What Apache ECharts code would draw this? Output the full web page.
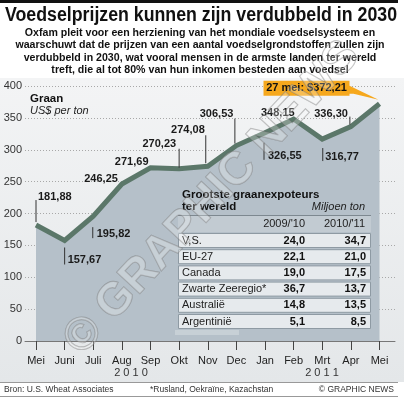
<!DOCTYPE html>
<html><head><meta charset="utf-8">
<script src="https://cdn.jsdelivr.net/npm/echarts@6/dist/echarts.min.js"></script>
<style>html,body{margin:0;padding:0;background:#fff}#c{width:404px;height:398px}</style>
</head><body><div id="c"></div>
<script>
// ---- data ----
const months = ['Mei','Juni','Juli','Aug','Sep','Okt','Nov','Dec','Jan','Feb','Mrt','Apr','Mei'];
const prices = [181.88,157.67,195.82,246.25,271.69,270.23,274.08,306.53,326.55,348.15,316.77,336.30,372.21];
const yMin = 0, yMax = 400, yStep = 50;
const years = ['2 0 1 0','2 0 1 1'];
const exporters = ['V,S.','EU-27','Canada','Zwarte Zeeregio*','Australië','Argentinië'];
const exp0910 = [24.0,22.1,19.0,36.7,14.8,5.1];
const exp1011 = [34.7,21.0,17.5,13.7,13.5,8.5];
const colHeads = ["2009/'10","2010/'11"];
const calloutText = '27 mei: $372,21';
const titleText = 'Voedselprijzen kunnen zijn verdubbeld in 2030';

// ---- styling / layout ----
const F = '"Liberation Sans", Arial, sans-serif';
// [align, dx, dy, leaderDx, leaderY1, leaderY2]
const labelLayout = [
  ['left', 2, -28, 0, -25, -3],
  ['left', 3, 19, 0, 7, 24],
  ['left', 3.5, 18, -0.5, 11, 22],
  ['right', -4, -5, null],
  ['right', -2, -6, null],
  ['right', -3, -25, 0, -20, -1],
  ['right', -3, -36, -2, -31, -3],
  ['right', -3, -32, -1.5, -27, -2],
  ['left', 3, 23, -1, 10, 27],
  ['right', 1, -6, null],
  ['left', 3, 18, 0.5, 9, 22],
  ['right', -3, -13, -1, -10, -2]
];
const fmt = v => v.toFixed(2).replace('.', ',');
const fmt1 = v => v.toFixed(1).replace('.', ',');

const titleFont = 'bold 19.5px ' + F;
const mctx = document.createElement('canvas').getContext('2d');
mctx.font = titleFont;
const titleScale = 392 / mctx.measureText(titleText).width;

const chart = echarts.init(document.getElementById('c'), null, {renderer: 'canvas'});

const g = [];
g.push({type:'rect', z:-10, shape:{x:0,y:78,width:404,height:304},
  style:{fill:new echarts.graphic.LinearGradient(0,0,0,1,[{offset:0,color:'#f3f4f5'},{offset:1,color:'#e4e7e9'}])}});
g.push({type:'rect', z:10, shape:{x:0,y:0,width:398,height:3}, style:{fill:'#111'}});
g.push({type:'text', z:10, x:201, y:15.5, scaleX:titleScale, style:{text:titleText, align:'center', verticalAlign:'middle', font:titleFont, fill:'#111'}});
const sub = ['Oxfam pleit voor een herziening van het mondiale voedselsysteem en',
 'waarschuwt dat de prijzen van een aantal voedselgrondstoffen zullen zijn',
 'verdubbeld in 2030, wat vooral mensen in de armste landen ter wereld',
 'treft, die al tot 80% van hun inkomen besteden aan voedsel'];
sub.forEach((t,i)=>g.push({type:'text', z:10, x:200, y:33+i*12.3, style:{text:t, align:'center', verticalAlign:'middle', font:'bold 10.6px '+F, fill:'#111'}}));
g.push({type:'text', z:10, x:30, y:99, style:{text:'Graan', verticalAlign:'middle', font:'bold 11.5px '+F, fill:'#111'}});
g.push({type:'text', z:10, x:30, y:111, style:{text:'US$ per ton', verticalAlign:'middle', font:'italic 11px '+F, fill:'#222'}});
g.push({type:'text', z:10, x:131, y:373, style:{text:years[0], align:'center', verticalAlign:'middle', font:'11px '+F, fill:'#333'}});
g.push({type:'text', z:10, x:322, y:373, style:{text:years[1], align:'center', verticalAlign:'middle', font:'11px '+F, fill:'#333'}});
g.push({type:'rect', z:10, shape:{x:0,y:382,width:398,height:1}, style:{fill:'#999'}});
g.push({type:'rect', z:10, shape:{x:0,y:396,width:398,height:1}, style:{fill:'#999'}});
g.push({type:'text', z:10, x:4, y:389.5, style:{text:'Bron: U.S. Wheat Associates', verticalAlign:'middle', font:'8.5px '+F, fill:'#333'}});
g.push({type:'text', z:10, x:150, y:389.5, style:{text:'*Rusland, Oekraïne, Kazachstan', verticalAlign:'middle', font:'8.5px '+F, fill:'#333'}});
g.push({type:'text', z:10, x:394, y:389.5, style:{text:'© GRAPHIC NEWS', align:'right', verticalAlign:'middle', font:'8.5px '+F, fill:'#333'}});
// table
g.push({type:'rect', z:8, shape:{x:175,y:330,width:64,height:5}, style:{fill:'rgba(255,255,255,0.25)'}});
g.push({type:'text', z:10, x:182, y:195, style:{text:'Grootste graanexpoteurs', verticalAlign:'middle', font:'bold 11.5px '+F, fill:'#111'}});
g.push({type:'text', z:10, x:182, y:207, style:{text:'ter wereld', verticalAlign:'middle', font:'bold 11.5px '+F, fill:'#111'}});
g.push({type:'text', z:10, x:365, y:207, style:{text:'Miljoen ton', align:'right', verticalAlign:'middle', font:'italic 11px '+F, fill:'#222'}});
g.push({type:'rect', z:9, shape:{x:178,y:215,width:193,height:17}, style:{fill:'rgba(255,255,255,0.18)'}});
g.push({type:'rect', z:10, shape:{x:178,y:215,width:193,height:1}, style:{fill:'#7d8890'}});
g.push({type:'text', z:10, x:305, y:224, style:{text:colHeads[0], align:'right', verticalAlign:'middle', font:'11px '+F, fill:'#222'}});
g.push({type:'text', z:10, x:365, y:224, style:{text:colHeads[1], align:'right', verticalAlign:'middle', font:'11px '+F, fill:'#222'}});
exporters.forEach((name,i)=>{
  const yc = 240.5 + i*16.2;
  g.push({type:'rect', z:10, shape:{x:178.5,y:yc-7,width:192,height:14}, style:{fill:'#e6eaed', stroke:'#8e9aa3', lineWidth:1}});
  g.push({type:'text', z:11, x:182, y:yc, style:{text:name, verticalAlign:'middle', font:'11px '+F, fill:'#222'}});
  g.push({type:'text', z:11, x:305, y:yc, style:{text:fmt1(exp0910[i]), align:'right', verticalAlign:'middle', font:'bold 11px '+F, fill:'#111'}});
  g.push({type:'text', z:11, x:366, y:yc, style:{text:fmt1(exp1011[i]), align:'right', verticalAlign:'middle', font:'bold 11px '+F, fill:'#111'}});
});
// watermark
g.push({type:'text', z:50, x:212, y:198, rotation:47*Math.PI/180, style:{text:'© GRAPHIC NEWS', align:'center', verticalAlign:'middle', font:'bold 46px '+F, fill:'rgba(255,255,255,0.25)', stroke:'rgba(110,110,110,0.45)', lineWidth:1.2}});

const option = {
  animation: false,
  backgroundColor: '#fff',
  grid: [
    {left:25, right:9, top:86, bottom:57},
    {left:36, right:24.5, top:86, bottom:57}
  ],
  xAxis: [
    {gridIndex:0, type:'value', min:0, max:1, axisLine:{show:true, lineStyle:{color:'#777', width:1}}, axisTick:{show:false}, axisLabel:{show:false}, splitLine:{show:false}},
    {gridIndex:1, type:'category', data:months, boundaryGap:false,
      axisLine:{show:false}, axisTick:{show:true, length:9, alignWithLabel:true, lineStyle:{color:'#444'}},
      axisLabel:{margin:14, fontSize:11, fontFamily:F, color:'#222', interval:0}, splitLine:{show:false}}
  ],
  yAxis: [
    {gridIndex:0, type:'value', min:yMin, max:yMax, interval:yStep, axisLine:{show:false}, axisTick:{show:false},
      axisLabel:{margin:3, fontSize:11, fontFamily:F, color:'#333'},
      splitLine:{show:true, lineStyle:{color:'#a8a8a8', type:[1,2], width:1}}},
    {gridIndex:1, type:'value', min:yMin, max:yMax, interval:yStep, show:false}
  ],
  series: [
    {type:'line', xAxisIndex:1, yAxisIndex:1, data:prices, symbol:'none', z:3,
      lineStyle:{color:'#5b7769', width:5, join:'miter'},
      areaStyle:{color:'#b5c0c9', opacity:1}},
    {type:'custom', xAxisIndex:1, yAxisIndex:1, z:5, data:prices.map((v,i)=>[i,v]),
      renderItem(params, api){
        const i = api.value(0);
        const p = api.coord([i, api.value(1)]);
        if (i === prices.length - 1) {
          const pts = [[-116,-23],[-30,-23],[-30,-18],[-1,-4],[-26,-10],[-30,-10],[-30,-8],[-116,-8]].map(q=>[p[0]+q[0], p[1]+q[1]]);
          return {type:'group', children:[
            {type:'polygon', shape:{points:pts}, style:{fill:'#f6a81d'}},
            {type:'text', x:p[0]-73, y:p[1]-15.5, style:{text:calloutText, align:'center', verticalAlign:'middle', font:'bold 11px '+F, fill:'#111'}}
          ]};
        }
        const L = labelLayout[i];
        const ch = [{type:'text', x:p[0]+L[1], y:p[1]+L[2], style:{text:fmt(prices[i]), align:L[0], verticalAlign:'middle', font:'bold 11px '+F, fill:'#1a1a1a'}}];
        if (L[3] !== null) ch.push({type:'line', shape:{x1:p[0]+L[3], y1:p[1]+L[4], x2:p[0]+L[3], y2:p[1]+L[5]}, style:{stroke:'#333', lineWidth:1}});
        return {type:'group', children:ch};
      }}
  ],
  graphic: {elements: g}
};
chart.setOption(option);
</script></body></html>
